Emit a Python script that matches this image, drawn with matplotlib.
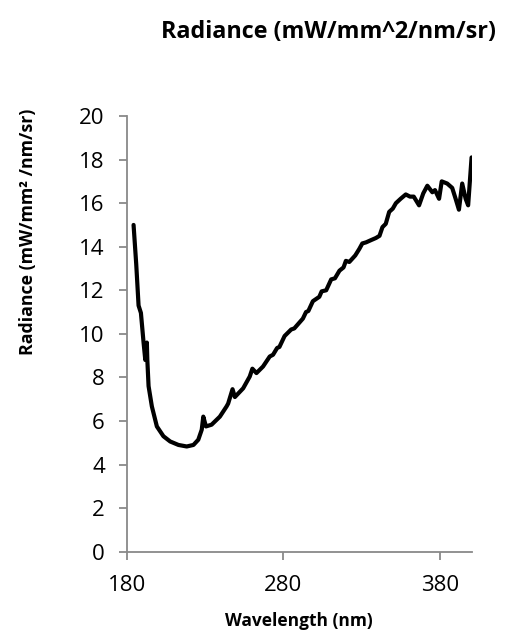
import matplotlib
matplotlib.use("Agg")
import matplotlib.pyplot as plt

plt.rcParams['font.family'] = ['Open Sans', 'DejaVu Sans']

wavelength = [184.2, 185.9, 187.4, 188.9, 190.6, 191.7, 192.7, 193.0, 193.8, 195.9, 199.1,
              203.3, 207.6, 212.9, 218.2, 222.5, 225.6, 227.8, 228.8, 230.5, 234.1,
              239.4, 243.7, 244.7, 247.5, 249.0, 254.3, 258.5, 260.2, 262.8, 267.0,
              271.3, 273.4, 276.0, 277.5, 280.8, 285.0, 287.0, 292.5, 294.5, 296.0,
              298.9, 303.0, 304.5, 307.4, 310.6, 313.0, 315.9, 318.5, 320.0, 322.2,
              326.0, 328.6, 330.5, 332.9, 336.0, 339.2, 341.5, 343.4, 345.5, 347.7,
              350.0, 352.0, 355.0, 358.3, 361.0, 363.4, 366.8, 369.5, 372.1, 375.3,
              377.0, 379.6, 381.3, 384.8, 388.0, 390.2, 392.3, 394.4, 396.6, 398.2,
              399.8, 400.4]
radiance = [15.0, 13.2, 11.3, 10.96, 9.6, 8.8, 9.6, 8.8, 7.6, 6.67, 5.75,
            5.3, 5.06, 4.9, 4.83, 4.9, 5.14, 5.6, 6.2, 5.75, 5.83,
            6.2, 6.67, 6.8, 7.46, 7.1, 7.5, 8.04, 8.4, 8.2, 8.5,
            8.96, 9.04, 9.35, 9.4, 9.9, 10.2, 10.25, 10.7, 11.0, 11.05,
            11.5, 11.7, 11.95, 12.0, 12.5, 12.55, 12.9, 13.05, 13.35, 13.3,
            13.6, 13.9, 14.15, 14.2, 14.3, 14.4, 14.5, 14.9, 15.05, 15.6,
            15.75, 16.0, 16.2, 16.4, 16.3, 16.3, 15.9, 16.45, 16.8, 16.5,
            16.6, 16.2, 17.0, 16.9, 16.7, 16.2, 15.7, 16.9, 16.2, 15.9,
            17.5, 18.1]

x_ticks = [180, 280, 380]
y_ticks = [0, 2, 4, 6, 8, 10, 12, 14, 16, 18, 20]

fig = plt.figure(figsize=(5.15, 6.35), dpi=100)
ax = fig.add_axes([0.2466, 0.1312, 0.916 - 0.2466, 0.8173 - 0.1312])
ax.plot(wavelength, radiance, color='black', linewidth=3.0, solid_joinstyle='round', solid_capstyle='round')
ax.set_xlim(180, 400.5)
ax.set_ylim(0, 20)
ax.set_xticks(x_ticks)
ax.set_yticks(y_ticks)
for s in ['top', 'right']:
    ax.spines[s].set_visible(False)
for s in ['left', 'bottom']:
    ax.spines[s].set_color('#898989')
    ax.spines[s].set_linewidth(1.3)
ax.tick_params(axis='both', colors='#898989', length=6, width=1.3, labelsize=16, labelcolor='black')
ax.tick_params(axis='x', pad=11)
ax.tick_params(axis='y', pad=10)
ax.set_xlabel('Wavelength (nm)', fontsize=12.5, fontweight='bold', labelpad=11)
fig.text(28 / 515, 1 - 232 / 635, 'Radiance (mW/mm² /nm/sr)', fontsize=12.8, fontweight='bold',
         rotation=90, ha='center', va='center')
fig.text(0.637, 1 - 32 / 635, 'Radiance (mW/mm^2/nm/sr)', fontsize=16.8, fontweight='bold',
         ha='center', va='center')
fig.savefig('out.png', dpi=100)
